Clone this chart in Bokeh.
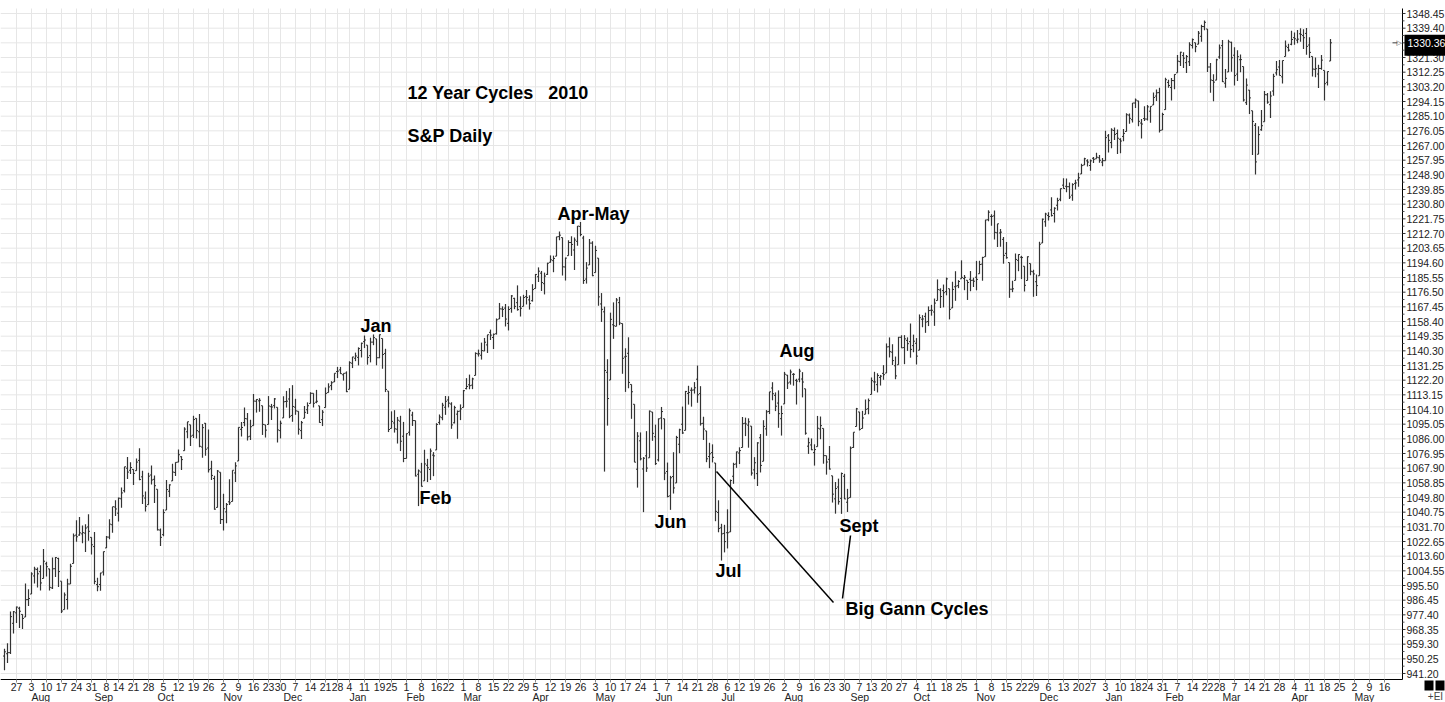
import datetime as dt
import pandas as pd
from bokeh.plotting import figure
from bokeh.models import ColumnDataSource, Range1d, Label
from bokeh.core.properties import value
from bokeh.embed import file_html
from bokeh.resources import INLINE

# ---------------- S&P 500 daily OHLC: (day, open, high, low, close)
jul_2009 = [(21, 951.97, 956.53, 943.22, 954.58), (22, 953.40, 959.83, 947.75, 954.07),
            (23, 954.07, 979.42, 953.27, 976.29), (24, 972.16, 979.79, 965.95, 979.26),
            (27, 978.63, 982.49, 972.29, 982.18), (28, 981.48, 982.35, 969.35, 979.62),
            (29, 977.66, 977.76, 968.65, 975.15), (30, 976.01, 996.68, 976.01, 986.75),
            (31, 986.80, 993.18, 982.85, 987.48)]
aug_2009 = [(3, 990.22, 1003.61, 990.22, 1002.63), (4, 1001.41, 1007.12, 996.68, 1005.65),
            (5, 1005.41, 1006.64, 994.31, 1002.72), (6, 1004.06, 1008.00, 992.49, 997.08),
            (7, 999.83, 1018.00, 999.83, 1010.48), (10, 1008.89, 1010.12, 1000.99, 1007.10),
            (11, 1005.77, 1005.77, 992.40, 994.35), (12, 994.00, 1012.78, 993.36, 1005.81),
            (13, 1005.86, 1013.14, 1000.82, 1012.73), (14, 1012.23, 1012.60, 994.60, 1004.09),
            (17, 998.18, 998.18, 978.51, 979.73), (18, 980.62, 991.20, 980.62, 989.67),
            (19, 986.88, 999.61, 980.62, 996.46), (20, 996.41, 1008.92, 996.39, 1007.37),
            (21, 1009.06, 1027.59, 1009.06, 1026.13), (24, 1026.59, 1035.82, 1022.48, 1025.57),
            (25, 1026.63, 1037.75, 1026.21, 1028.00), (26, 1027.35, 1032.47, 1021.57, 1028.12),
            (27, 1027.81, 1033.33, 1016.20, 1030.98), (28, 1031.62, 1039.47, 1023.13, 1028.93),
            (31, 1025.21, 1025.21, 1014.62, 1020.62)]
sep_2009 = [(1, 1019.52, 1028.45, 996.28, 998.04), (2, 996.07, 1000.34, 991.97, 994.75),
            (3, 996.12, 1003.43, 992.25, 1003.24), (4, 1003.84, 1016.48, 1001.65, 1016.40),
            (8, 1018.67, 1026.07, 1018.67, 1025.39), (9, 1025.36, 1036.34, 1023.97, 1033.37),
            (10, 1032.99, 1044.14, 1028.04, 1044.14), (11, 1043.92, 1048.18, 1038.40, 1042.73),
            (14, 1040.15, 1049.74, 1035.00, 1049.34), (15, 1049.03, 1056.04, 1043.42, 1052.63),
            (16, 1053.99, 1068.76, 1052.87, 1068.76), (17, 1067.87, 1074.77, 1061.20, 1065.49),
            (18, 1066.60, 1071.52, 1064.27, 1068.30), (21, 1067.14, 1067.28, 1057.46, 1064.66),
            (22, 1066.35, 1073.81, 1066.35, 1071.66), (23, 1072.69, 1080.15, 1060.39, 1060.87),
            (24, 1062.56, 1066.29, 1045.85, 1050.78), (25, 1049.48, 1053.47, 1041.17, 1044.38),
            (28, 1045.38, 1065.13, 1045.38, 1062.98), (29, 1063.69, 1069.62, 1057.83, 1060.61),
            (30, 1061.02, 1063.40, 1046.47, 1057.08)]
oct_2009 = [(1, 1054.91, 1054.91, 1029.45, 1029.85), (2, 1029.71, 1030.60, 1019.95, 1025.21),
            (5, 1026.87, 1042.58, 1025.92, 1040.46), (6, 1042.02, 1060.55, 1042.02, 1054.72),
            (7, 1053.65, 1058.02, 1050.10, 1057.58), (8, 1060.03, 1070.67, 1060.03, 1065.48),
            (9, 1065.28, 1071.51, 1063.00, 1071.49), (12, 1071.63, 1079.46, 1071.63, 1076.19),
            (13, 1074.96, 1075.30, 1066.71, 1073.19), (14, 1078.68, 1093.17, 1078.68, 1092.02),
            (15, 1090.36, 1096.56, 1086.41, 1096.56), (16, 1094.67, 1094.67, 1081.53, 1087.68),
            (19, 1088.22, 1100.17, 1086.48, 1097.91), (20, 1098.64, 1098.64, 1086.16, 1091.06),
            (21, 1090.36, 1101.36, 1080.77, 1081.40), (22, 1080.96, 1095.21, 1074.31, 1092.91),
            (23, 1095.62, 1095.83, 1075.49, 1079.60), (26, 1080.36, 1091.75, 1065.23, 1066.95),
            (27, 1067.54, 1072.48, 1060.62, 1063.41), (28, 1061.51, 1063.26, 1042.19, 1042.63),
            (29, 1043.69, 1066.83, 1043.69, 1066.11), (30, 1065.41, 1065.41, 1033.38, 1036.19)]
nov_2009 = [(2, 1036.18, 1052.18, 1029.38, 1042.88), (3, 1040.92, 1046.36, 1033.94, 1045.41),
            (4, 1047.14, 1061.00, 1045.15, 1046.50), (5, 1047.30, 1066.65, 1047.30, 1066.63),
            (6, 1064.95, 1071.48, 1059.32, 1069.30), (9, 1072.31, 1093.19, 1072.31, 1093.08),
            (10, 1091.86, 1096.42, 1087.40, 1093.01), (11, 1096.04, 1105.37, 1093.81, 1098.51),
            (12, 1098.31, 1101.97, 1084.90, 1087.24), (13, 1087.59, 1097.79, 1085.33, 1093.48),
            (16, 1094.13, 1113.69, 1094.13, 1109.30), (17, 1109.22, 1110.52, 1102.19, 1110.32),
            (18, 1109.44, 1111.10, 1102.70, 1109.80), (19, 1106.44, 1106.44, 1088.40, 1094.90),
            (20, 1094.66, 1094.66, 1086.81, 1091.38), (23, 1094.86, 1112.38, 1094.86, 1106.24),
            (24, 1105.83, 1107.56, 1097.63, 1105.65), (25, 1106.49, 1111.18, 1104.75, 1110.63),
            (27, 1105.47, 1105.47, 1083.74, 1091.49), (30, 1091.07, 1097.24, 1086.25, 1095.63)]
dec_2009 = [(1, 1098.89, 1112.28, 1098.89, 1108.86), (2, 1109.03, 1115.58, 1105.29, 1109.24),
            (3, 1110.59, 1117.28, 1098.74, 1099.92), (4, 1100.43, 1119.13, 1096.52, 1105.98),
            (7, 1105.52, 1110.72, 1100.83, 1103.25), (8, 1103.04, 1103.04, 1088.61, 1091.94),
            (9, 1091.07, 1097.04, 1085.89, 1095.95), (10, 1098.69, 1106.25, 1098.69, 1102.35),
            (11, 1103.96, 1108.50, 1101.34, 1106.41), (14, 1107.84, 1114.76, 1107.84, 1114.11),
            (15, 1114.11, 1114.11, 1105.35, 1107.93), (16, 1108.61, 1116.21, 1107.96, 1109.18),
            (17, 1106.36, 1106.36, 1095.88, 1096.08), (18, 1097.86, 1103.74, 1093.88, 1102.47),
            (21, 1105.31, 1117.68, 1105.31, 1114.05), (22, 1114.51, 1120.27, 1114.51, 1118.02),
            (23, 1118.84, 1121.58, 1116.00, 1120.59), (24, 1121.08, 1126.48, 1121.08, 1126.48),
            (28, 1127.53, 1130.38, 1123.51, 1127.78), (29, 1128.55, 1130.38, 1126.08, 1126.20),
            (30, 1125.53, 1126.42, 1121.94, 1126.42), (31, 1126.60, 1127.64, 1114.81, 1115.10)]
jan_2010 = [(4, 1116.56, 1133.87, 1116.56, 1132.99), (5, 1132.66, 1136.63, 1129.66, 1136.52),
            (6, 1135.71, 1139.19, 1133.95, 1137.14), (7, 1136.27, 1142.46, 1131.32, 1141.69),
            (8, 1140.52, 1145.39, 1136.22, 1144.98), (11, 1145.96, 1149.74, 1142.02, 1146.98),
            (12, 1143.81, 1143.81, 1131.77, 1136.22), (13, 1137.31, 1148.40, 1133.18, 1145.68),
            (14, 1145.68, 1150.41, 1143.80, 1148.46), (15, 1147.72, 1147.77, 1131.39, 1136.03),
            (19, 1136.03, 1150.45, 1135.77, 1150.23), (20, 1147.95, 1147.95, 1129.25, 1138.04),
            (21, 1138.68, 1141.58, 1114.84, 1116.48), (22, 1115.49, 1115.49, 1090.18, 1091.76),
            (25, 1092.40, 1102.97, 1092.40, 1096.78), (26, 1095.80, 1103.69, 1089.86, 1092.17),
            (27, 1091.94, 1099.51, 1083.11, 1097.50), (28, 1096.93, 1100.22, 1078.46, 1084.53),
            (29, 1087.61, 1096.45, 1071.59, 1073.87)]
feb_2010 = [(1, 1073.89, 1089.38, 1073.89, 1089.19), (2, 1090.05, 1104.73, 1087.96, 1103.32),
            (3, 1100.67, 1102.72, 1093.97, 1097.28), (4, 1097.25, 1097.25, 1062.78, 1063.11),
            (5, 1064.12, 1067.13, 1044.50, 1066.19), (8, 1065.51, 1071.20, 1056.51, 1056.74),
            (9, 1060.06, 1079.28, 1060.06, 1070.52), (10, 1069.68, 1073.67, 1059.34, 1068.13),
            (11, 1067.10, 1080.04, 1060.59, 1078.47), (12, 1075.95, 1077.81, 1062.97, 1075.51),
            (16, 1079.13, 1095.67, 1079.13, 1094.87), (17, 1096.14, 1101.03, 1094.72, 1099.51),
            (18, 1099.03, 1108.24, 1097.48, 1106.75), (19, 1105.49, 1112.42, 1100.80, 1109.17),
            (22, 1110.00, 1112.29, 1105.38, 1108.01), (23, 1107.49, 1108.58, 1092.18, 1094.60),
            (24, 1095.89, 1106.42, 1095.50, 1105.24), (25, 1101.24, 1103.50, 1086.02, 1102.94),
            (26, 1103.10, 1107.24, 1097.56, 1104.49)]
mar_2010 = [(1, 1105.36, 1116.11, 1105.36, 1115.71), (2, 1117.01, 1123.46, 1116.51, 1118.31),
            (3, 1119.36, 1125.64, 1116.58, 1118.79), (4, 1119.12, 1123.73, 1116.66, 1122.97),
            (5, 1125.12, 1139.38, 1125.12, 1138.70), (8, 1138.40, 1141.05, 1136.77, 1138.50),
            (9, 1137.56, 1145.37, 1134.90, 1140.45), (10, 1140.22, 1148.26, 1140.09, 1145.61),
            (11, 1143.96, 1150.24, 1138.99, 1150.24), (12, 1151.71, 1153.41, 1146.97, 1149.99),
            (15, 1148.53, 1150.98, 1141.45, 1150.51), (16, 1150.83, 1160.28, 1150.35, 1159.46),
            (17, 1159.94, 1169.84, 1159.94, 1166.21), (18, 1166.13, 1167.77, 1161.16, 1165.83),
            (19, 1166.68, 1169.20, 1155.33, 1159.90), (22, 1157.25, 1167.82, 1152.88, 1165.81),
            (23, 1166.47, 1174.72, 1163.83, 1174.17), (24, 1172.70, 1173.04, 1166.01, 1167.72),
            (25, 1170.03, 1180.69, 1165.09, 1165.73), (26, 1167.58, 1173.93, 1161.48, 1166.59),
            (29, 1167.71, 1174.85, 1167.71, 1173.22), (30, 1173.75, 1177.83, 1168.92, 1173.27),
            (31, 1171.75, 1174.56, 1165.77, 1169.43)]
apr_2010 = [(1, 1171.23, 1181.43, 1170.69, 1178.10), (5, 1178.71, 1187.73, 1178.71, 1187.44),
            (6, 1186.01, 1191.80, 1182.77, 1189.44), (7, 1188.23, 1189.60, 1177.25, 1182.45),
            (8, 1181.75, 1188.55, 1175.12, 1186.44), (9, 1187.47, 1194.66, 1187.15, 1194.37),
            (12, 1194.94, 1199.20, 1194.71, 1196.48), (13, 1195.94, 1199.04, 1188.82, 1197.30),
            (14, 1198.69, 1210.65, 1198.69, 1210.65), (15, 1210.77, 1213.92, 1208.50, 1211.67),
            (16, 1210.17, 1210.17, 1186.77, 1192.13), (19, 1192.06, 1197.87, 1183.68, 1197.52),
            (20, 1199.04, 1208.58, 1199.04, 1207.17), (21, 1207.16, 1210.99, 1198.85, 1205.94),
            (22, 1202.52, 1210.27, 1190.19, 1208.67), (23, 1207.87, 1217.28, 1205.10, 1217.28),
            (26, 1217.07, 1219.80, 1211.07, 1212.05), (27, 1209.92, 1211.38, 1181.62, 1183.71),
            (28, 1184.59, 1195.05, 1181.81, 1191.36), (29, 1193.30, 1209.36, 1193.30, 1206.78),
            (30, 1206.77, 1207.99, 1186.32, 1186.69)]
may_2010 = [(3, 1188.58, 1205.13, 1188.58, 1202.26), (4, 1197.50, 1197.50, 1168.12, 1173.60),
            (5, 1169.24, 1175.95, 1158.15, 1165.90), (6, 1164.38, 1167.58, 1065.79, 1128.15),
            (7, 1127.04, 1135.13, 1094.15, 1110.88), (10, 1122.27, 1163.85, 1122.27, 1159.73),
            (11, 1156.39, 1170.21, 1147.70, 1155.79), (12, 1155.43, 1172.87, 1155.43, 1171.67),
            (13, 1170.04, 1173.57, 1156.14, 1157.44), (14, 1157.19, 1157.19, 1126.14, 1135.68),
            (17, 1136.52, 1141.88, 1114.96, 1136.94), (18, 1138.78, 1148.66, 1117.20, 1120.80),
            (19, 1119.57, 1119.57, 1098.35, 1115.05), (20, 1107.34, 1107.34, 1071.58, 1071.59),
            (21, 1067.26, 1090.16, 1055.90, 1087.69), (24, 1084.78, 1089.95, 1072.70, 1073.65),
            (25, 1067.42, 1074.75, 1040.78, 1074.03), (26, 1075.51, 1090.75, 1065.59, 1067.95),
            (27, 1074.27, 1103.52, 1074.27, 1103.06), (28, 1102.59, 1102.59, 1084.78, 1089.41)]
jun_2010 = [(1, 1087.30, 1094.77, 1069.89, 1070.71), (2, 1073.01, 1098.56, 1072.03, 1098.38),
            (3, 1098.82, 1105.67, 1091.81, 1102.83), (4, 1098.43, 1098.43, 1060.50, 1064.88),
            (7, 1065.84, 1071.36, 1049.86, 1050.47), (8, 1050.81, 1063.15, 1042.17, 1062.00),
            (9, 1062.75, 1077.74, 1052.25, 1055.69), (10, 1058.77, 1087.85, 1058.77, 1086.84),
            (11, 1082.65, 1092.25, 1077.12, 1091.60), (14, 1095.00, 1105.91, 1089.03, 1089.63),
            (15, 1091.21, 1115.59, 1091.21, 1115.23), (16, 1114.02, 1118.74, 1107.13, 1114.61),
            (17, 1115.98, 1117.72, 1105.87, 1116.04), (18, 1116.16, 1121.01, 1113.93, 1117.51),
            (21, 1122.79, 1131.23, 1108.24, 1113.20), (22, 1113.90, 1118.50, 1094.18, 1095.31),
            (23, 1095.57, 1099.64, 1085.31, 1092.04), (24, 1090.93, 1090.93, 1071.60, 1073.69),
            (25, 1075.10, 1083.56, 1067.89, 1076.76), (28, 1077.50, 1082.60, 1071.45, 1074.57),
            (29, 1071.10, 1071.10, 1035.18, 1041.24), (30, 1040.56, 1048.08, 1028.33, 1030.71)]
jul_2010 = [(1, 1031.10, 1033.58, 1010.91, 1027.37), (2, 1027.65, 1032.95, 1015.93, 1022.58),
            (6, 1028.09, 1042.50, 1018.35, 1028.06), (7, 1028.54, 1060.89, 1028.54, 1060.27),
            (8, 1062.92, 1071.25, 1058.24, 1070.25), (9, 1070.50, 1078.16, 1068.10, 1077.96),
            (12, 1077.23, 1080.78, 1070.45, 1078.75), (13, 1080.65, 1099.46, 1080.65, 1095.34),
            (14, 1095.61, 1099.08, 1087.68, 1095.17), (15, 1094.46, 1098.66, 1080.53, 1096.48),
            (16, 1093.85, 1093.85, 1063.32, 1064.88), (19, 1066.85, 1074.70, 1061.11, 1071.25),
            (20, 1064.53, 1083.94, 1056.88, 1083.48), (21, 1086.67, 1088.96, 1065.25, 1069.59),
            (22, 1072.14, 1097.50, 1072.14, 1093.67), (23, 1092.17, 1103.73, 1087.88, 1102.66),
            (26, 1102.89, 1115.01, 1101.30, 1115.01), (27, 1117.36, 1120.95, 1109.78, 1113.84),
            (28, 1112.84, 1114.66, 1103.11, 1106.13), (29, 1108.07, 1115.90, 1092.82, 1101.53),
            (30, 1098.44, 1106.44, 1088.01, 1101.60)]
aug_2010 = [(2, 1107.53, 1127.30, 1107.53, 1125.86), (3, 1125.34, 1125.44, 1116.76, 1120.46),
            (4, 1121.06, 1128.75, 1119.46, 1127.24), (5, 1125.78, 1126.56, 1118.81, 1125.81),
            (6, 1122.07, 1123.06, 1107.17, 1121.64), (9, 1122.80, 1129.24, 1120.91, 1127.79),
            (10, 1122.92, 1127.16, 1111.58, 1121.06), (11, 1116.89, 1116.89, 1088.55, 1089.47),
            (12, 1081.48, 1086.72, 1076.69, 1083.61), (13, 1082.22, 1086.25, 1079.00, 1079.25),
            (16, 1077.49, 1082.62, 1069.49, 1079.38), (17, 1081.16, 1100.14, 1081.16, 1092.54),
            (18, 1092.08, 1099.77, 1085.76, 1094.16), (19, 1092.44, 1092.44, 1070.66, 1075.63),
            (20, 1075.63, 1075.63, 1063.91, 1071.69), (23, 1073.36, 1081.58, 1067.08, 1067.36),
            (24, 1063.20, 1063.20, 1046.68, 1051.87), (25, 1048.98, 1059.38, 1039.83, 1055.33),
            (26, 1056.28, 1061.45, 1045.40, 1047.22), (27, 1049.27, 1065.21, 1039.70, 1064.59),
            (30, 1062.90, 1064.40, 1048.79, 1048.92), (31, 1046.88, 1055.14, 1040.88, 1049.33)]
sep_2010 = [(1, 1049.72, 1081.30, 1049.72, 1080.29), (2, 1080.66, 1090.10, 1080.39, 1090.10),
            (3, 1093.61, 1105.10, 1093.61, 1104.51), (7, 1102.60, 1102.60, 1091.15, 1091.84),
            (8, 1092.36, 1103.26, 1092.36, 1098.87), (9, 1101.15, 1110.27, 1101.15, 1104.18),
            (10, 1104.57, 1110.88, 1101.15, 1109.55), (13, 1113.38, 1123.87, 1113.38, 1121.90),
            (14, 1121.16, 1127.36, 1115.58, 1121.10), (15, 1119.43, 1126.46, 1114.63, 1125.07),
            (16, 1123.89, 1125.44, 1118.88, 1124.66), (17, 1126.39, 1131.47, 1122.43, 1125.59),
            (20, 1126.57, 1144.86, 1126.57, 1142.71), (21, 1142.82, 1148.59, 1136.22, 1139.78),
            (22, 1139.49, 1144.38, 1131.58, 1134.28), (23, 1131.10, 1136.77, 1122.79, 1124.83),
            (24, 1131.69, 1148.90, 1131.69, 1148.67), (27, 1148.64, 1149.92, 1142.00, 1142.16),
            (28, 1142.31, 1150.00, 1132.09, 1147.70), (29, 1146.75, 1148.63, 1140.26, 1144.73),
            (30, 1145.97, 1157.16, 1136.08, 1141.20)]
oct_2010 = [(1, 1143.49, 1150.30, 1139.42, 1146.24), (4, 1144.96, 1148.16, 1131.87, 1137.03),
            (5, 1140.68, 1162.76, 1140.68, 1160.75), (6, 1159.81, 1162.33, 1154.85, 1159.97),
            (7, 1161.57, 1163.87, 1151.41, 1158.06), (8, 1158.36, 1167.73, 1155.58, 1165.15),
            (11, 1165.32, 1168.68, 1162.02, 1165.32), (12, 1164.28, 1172.58, 1155.71, 1169.77),
            (13, 1171.32, 1184.38, 1171.32, 1178.10), (14, 1177.82, 1178.89, 1166.71, 1173.81),
            (15, 1177.47, 1181.20, 1167.12, 1176.19), (18, 1176.83, 1185.53, 1174.55, 1184.71),
            (19, 1178.64, 1178.64, 1159.71, 1165.90), (20, 1166.74, 1182.94, 1166.74, 1178.17),
            (21, 1179.82, 1189.43, 1171.17, 1180.26), (22, 1180.52, 1183.93, 1178.99, 1183.08),
            (25, 1184.74, 1196.14, 1184.74, 1185.62), (26, 1184.88, 1187.11, 1177.72, 1185.64),
            (27, 1183.84, 1183.84, 1171.70, 1182.45), (28, 1184.47, 1189.53, 1177.10, 1183.78),
            (29, 1183.87, 1185.46, 1179.70, 1183.26)]
nov_2010 = [(1, 1185.71, 1195.81, 1177.65, 1184.38), (2, 1187.86, 1195.88, 1187.86, 1193.57),
            (3, 1193.79, 1198.30, 1183.56, 1197.96), (4, 1198.34, 1221.25, 1198.34, 1221.06),
            (5, 1221.20, 1227.08, 1220.29, 1225.85), (8, 1223.24, 1224.57, 1217.55, 1223.25),
            (9, 1223.59, 1226.84, 1208.94, 1213.40), (10, 1213.14, 1218.75, 1204.33, 1218.71),
            (11, 1213.04, 1215.45, 1204.49, 1213.54), (12, 1209.07, 1210.50, 1194.08, 1199.21),
            (15, 1200.44, 1207.43, 1197.15, 1197.75), (16, 1194.79, 1194.79, 1173.00, 1178.34),
            (17, 1178.33, 1183.56, 1176.50, 1178.59), (18, 1183.75, 1200.29, 1183.75, 1196.69),
            (19, 1196.12, 1199.97, 1189.44, 1199.73), (22, 1198.07, 1198.94, 1184.58, 1197.84),
            (23, 1192.51, 1192.51, 1176.91, 1180.73), (24, 1183.70, 1198.62, 1183.70, 1198.35),
            (26, 1194.16, 1194.16, 1186.93, 1189.40), (29, 1189.08, 1190.34, 1173.64, 1187.76),
            (30, 1182.96, 1187.40, 1174.14, 1180.55)]
dec_2010 = [(1, 1186.60, 1207.61, 1186.60, 1206.07), (2, 1206.81, 1221.89, 1206.81, 1221.53),
            (3, 1219.93, 1225.57, 1216.82, 1224.71), (6, 1223.87, 1225.80, 1220.67, 1223.12),
            (7, 1227.25, 1235.05, 1223.25, 1223.75), (8, 1225.02, 1228.93, 1219.50, 1228.28),
            (9, 1230.14, 1234.71, 1226.85, 1233.00), (10, 1233.85, 1240.40, 1232.58, 1240.40),
            (13, 1242.52, 1246.73, 1240.34, 1240.46), (14, 1241.84, 1246.59, 1238.17, 1241.59),
            (15, 1241.58, 1244.25, 1234.01, 1235.23), (16, 1236.34, 1243.75, 1232.85, 1242.87),
            (17, 1243.63, 1245.81, 1239.87, 1243.91), (20, 1245.76, 1250.20, 1241.51, 1247.08),
            (21, 1249.43, 1255.82, 1249.43, 1254.60), (22, 1254.94, 1259.39, 1254.94, 1258.84),
            (23, 1257.53, 1258.59, 1254.05, 1256.77), (27, 1254.66, 1258.43, 1251.48, 1257.54),
            (28, 1259.10, 1259.90, 1256.22, 1258.51), (29, 1258.78, 1262.60, 1258.78, 1259.78),
            (30, 1259.44, 1261.09, 1256.32, 1257.88), (31, 1256.76, 1259.34, 1254.19, 1257.64)]
jan_2011 = [(3, 1257.62, 1276.17, 1257.62, 1271.87), (4, 1272.95, 1274.12, 1262.66, 1270.20),
            (5, 1268.78, 1277.63, 1265.36, 1276.56), (6, 1276.29, 1278.17, 1270.43, 1273.85),
            (7, 1274.41, 1276.83, 1261.70, 1271.50), (10, 1270.84, 1271.52, 1262.18, 1269.75),
            (11, 1272.58, 1277.25, 1269.62, 1274.48), (12, 1275.65, 1286.87, 1275.65, 1285.96),
            (13, 1285.78, 1286.70, 1280.47, 1283.76), (14, 1282.90, 1293.24, 1281.24, 1293.24),
            (18, 1293.22, 1296.06, 1290.16, 1295.02), (19, 1294.52, 1294.60, 1278.92, 1281.92),
            (20, 1280.85, 1283.35, 1271.26, 1280.26), (21, 1283.63, 1291.21, 1282.07, 1283.35),
            (24, 1283.29, 1291.93, 1282.47, 1290.84), (25, 1288.17, 1291.26, 1281.07, 1291.18),
            (26, 1291.97, 1299.74, 1291.97, 1296.63), (27, 1297.51, 1301.63, 1294.41, 1299.54),
            (28, 1299.63, 1302.67, 1275.10, 1276.34), (31, 1276.50, 1287.17, 1276.50, 1286.12)]
feb_2011 = [(1, 1289.14, 1308.86, 1289.14, 1307.59), (2, 1305.91, 1307.61, 1302.62, 1304.03),
            (3, 1302.77, 1308.60, 1294.83, 1307.10), (4, 1307.01, 1311.00, 1301.67, 1310.87),
            (7, 1311.85, 1322.85, 1311.85, 1319.05), (8, 1318.76, 1324.87, 1316.03, 1324.57),
            (9, 1322.48, 1324.54, 1314.89, 1320.88), (10, 1318.13, 1322.78, 1311.74, 1321.87),
            (11, 1318.66, 1330.79, 1316.08, 1329.15), (14, 1328.73, 1332.96, 1326.90, 1332.32),
            (15, 1330.43, 1330.43, 1324.61, 1328.01), (16, 1329.51, 1337.61, 1329.51, 1336.32),
            (17, 1334.37, 1341.50, 1331.00, 1340.43), (18, 1340.38, 1344.07, 1338.12, 1343.01),
            (22, 1338.91, 1338.91, 1312.33, 1315.44), (23, 1315.44, 1317.91, 1299.55, 1307.40),
            (24, 1307.09, 1310.91, 1294.26, 1306.10), (25, 1307.34, 1320.61, 1307.34, 1319.88),
            (28, 1321.61, 1329.38, 1320.55, 1327.22)]
mar_2011 = [(1, 1328.64, 1332.09, 1306.14, 1306.33), (2, 1305.47, 1314.19, 1302.58, 1308.44),
            (3, 1312.37, 1332.28, 1312.37, 1330.97), (4, 1330.73, 1331.08, 1312.59, 1321.15),
            (7, 1322.72, 1327.68, 1303.99, 1310.13), (8, 1311.05, 1325.74, 1306.86, 1321.82),
            (9, 1319.92, 1323.21, 1312.27, 1320.02), (10, 1315.72, 1315.72, 1294.21, 1295.11),
            (11, 1293.43, 1308.35, 1291.99, 1304.28), (14, 1301.19, 1301.19, 1286.37, 1296.39),
            (15, 1288.46, 1288.46, 1261.12, 1281.87), (16, 1279.46, 1280.91, 1249.05, 1256.88),
            (17, 1261.61, 1278.88, 1261.61, 1273.72), (18, 1276.71, 1288.88, 1276.18, 1279.21),
            (21, 1281.65, 1300.58, 1281.65, 1298.38), (22, 1298.29, 1299.35, 1292.70, 1293.77),
            (23, 1292.19, 1300.51, 1284.05, 1297.54), (24, 1300.61, 1311.34, 1297.74, 1309.66),
            (25, 1311.80, 1319.18, 1310.15, 1313.80), (28, 1315.45, 1319.74, 1310.19, 1310.19),
            (29, 1309.37, 1319.45, 1305.26, 1319.44), (30, 1321.89, 1331.74, 1321.89, 1328.26),
            (31, 1327.44, 1329.77, 1325.03, 1325.83)]
apr_2011 = [(1, 1329.48, 1337.85, 1328.89, 1332.41), (4, 1333.56, 1336.74, 1329.10, 1332.87),
            (5, 1332.03, 1338.21, 1330.03, 1332.63), (6, 1335.94, 1339.38, 1331.09, 1335.54),
            (7, 1334.82, 1338.80, 1326.56, 1333.51), (8, 1336.16, 1339.46, 1322.94, 1328.17),
            (11, 1329.01, 1333.77, 1321.06, 1324.46), (12, 1321.96, 1321.96, 1309.51, 1314.16),
            (13, 1314.03, 1321.35, 1309.19, 1314.41), (14, 1311.13, 1316.79, 1302.42, 1314.52),
            (15, 1314.54, 1322.88, 1313.68, 1319.68), (18, 1313.35, 1313.35, 1294.70, 1305.14),
            (19, 1305.99, 1312.70, 1303.97, 1312.62), (20, 1319.12, 1332.66, 1319.12, 1330.36)]

month_tables = [((2009, 7), jul_2009), ((2009, 8), aug_2009), ((2009, 9), sep_2009),
                ((2009, 10), oct_2009), ((2009, 11), nov_2009), ((2009, 12), dec_2009),
                ((2010, 1), jan_2010), ((2010, 2), feb_2010), ((2010, 3), mar_2010),
                ((2010, 4), apr_2010), ((2010, 5), may_2010), ((2010, 6), jun_2010),
                ((2010, 7), jul_2010), ((2010, 8), aug_2010), ((2010, 9), sep_2010),
                ((2010, 10), oct_2010), ((2010, 11), nov_2010), ((2010, 12), dec_2010),
                ((2011, 1), jan_2011), ((2011, 2), feb_2011), ((2011, 3), mar_2011),
                ((2011, 4), apr_2011)]

# exchange holidays inside the data period (the future part of the axis has none)
holidays = ["2009-09-07", "2009-11-26", "2009-12-25", "2010-01-01", "2010-01-18",
            "2010-02-15", "2010-04-02", "2010-05-31", "2010-07-05", "2010-09-06",
            "2010-11-25", "2010-12-24", "2011-01-17", "2011-02-21"]
last_price = 1330.36
y_tick_start, y_tick_step, y_tick_count = 941.20, 9.05, 46

# ---------------- trading-day calendar (x axis = trading-day index)
hol = set(pd.to_datetime(holidays).date)
cal = [d.date() for d in pd.bdate_range("2009-07-21", "2011-06-17") if d.date() not in hol]
pos = {d: i for i, d in enumerate(cal)}

xs, os_, hs, ls, cs = [], [], [], [], []
for (yy, mm), rows in month_tables:
    for (day, o, h, l, c) in rows:
        d = dt.date(yy, mm, day)
        xs.append(pos[d]); os_.append(o); hs.append(h); ls.append(l); cs.append(c)

src = ColumnDataSource(dict(x=xs, xl=[v - 0.5 for v in xs], xr=[v + 0.5 for v in xs],
                            o=os_, h=hs, l=ls, c=cs))

# ---------------- geometry: canvas pixels <-> data (3 px per trading day)
CW, CH = 1445, 702
PPD = 3.0                     # px per trading day
X_OFF = 4.0                   # px of trading day 0
PPP = 1.6206                  # px per index point
Y_REF_PX, Y_REF = 673.0, 941.20


def ix(px):
    return (px - X_OFF) / PPD


def pv(py):
    return Y_REF + (Y_REF_PX - py) / PPP


X0, X1 = ix(0), ix(CW)
Y0, Y1 = pv(CH), pv(0)
X_AXIS = ix(1402)             # price axis line
Y_AXIS = pv(679)              # time axis line
Y_TOP = pv(8)                 # top of grid

p = figure(width=CW, height=CH, x_range=Range1d(X0, X1), y_range=Range1d(Y0, Y1),
           x_axis_type=None, y_axis_type=None, output_backend="svg",
           toolbar_location=None, min_border=0)
p.outline_line_color = None
p.background_fill_color = "white"
p.border_fill_color = "white"
p.grid.visible = False

grid_col = "#e6e6e6"
lab_col = "#222222"
font = "Liberation Sans"

# time-axis ticks: week day-numbers and month names
week_ticks, week_lbl = [], []
month_ticks, month_lbl = [], []
for i, d in enumerate(cal):
    if i == 0 or i > X_AXIS - 3:
        continue
    prev = cal[i - 1]
    if d.weekday() <= prev.weekday():
        week_ticks.append(i)
        week_lbl.append(str(d.day))
    if d.month != prev.month:
        month_ticks.append(i)
        month_lbl.append(d.strftime("%b"))

yt = [round(y_tick_start + y_tick_step * k, 2) for k in range(y_tick_count)]
ym = [round(y_tick_start + y_tick_step * (k + 0.5), 3) for k in range(y_tick_count - 1)]

# grid
p.segment(x0=week_ticks, x1=week_ticks, y0=[Y_AXIS] * len(week_ticks),
          y1=[Y_TOP] * len(week_ticks), line_color=grid_col, line_width=1)
p.segment(x0=[X0] * len(yt), x1=[X_AXIS] * len(yt), y0=yt, y1=yt,
          line_color=grid_col, line_width=1)

# OHLC bars
bar_col = "#333333"
p.segment(x0="x", y0="l", x1="x", y1="h", source=src, line_color=bar_col, line_width=1.2)
p.segment(x0="xl", y0="o", x1="x", y1="o", source=src, line_color=bar_col, line_width=1)
p.segment(x0="x", y0="c", x1="xr", y1="c", source=src, line_color=bar_col, line_width=1)

# annotations
notes = [("12 Year Cycles\u00a0\u00a0 2010", 407, 92), ("S&P Daily", 407, 135),
         ("Jan", 360, 325), ("Feb", 419, 497), ("Apr-May", 557, 213), ("Jun", 654, 521),
         ("Jul", 715, 570), ("Aug", 779, 350), ("Sept", 839, 525),
         ("Big Gann Cycles", 845, 608)]
for t, px, py in notes:
    p.add_layout(Label(x=ix(px), y=pv(py), text=t, text_font=font, text_font_size="18px",
                       text_font_style="bold", text_color="black", text_align="left",
                       text_baseline="middle"))

p.line(x=[ix(716), ix(833)], y=[pv(471), pv(602)], line_color="black", line_width=1.5)
p.line(x=[ix(850), ix(842)], y=[pv(535), pv(598)], line_color="black", line_width=1.5)

# axes lines
p.segment(x0=[X0], x1=[X_AXIS], y0=[Y_AXIS], y1=[Y_AXIS], line_color="black", line_width=1)
p.segment(x0=[X_AXIS], x1=[X_AXIS], y0=[Y_AXIS], y1=[Y_TOP], line_color="black", line_width=1)

# price-axis ticks and labels
p.segment(x0=[X_AXIS] * len(yt), x1=[X_AXIS + 3 / PPD] * len(yt), y0=yt, y1=yt,
          line_color="#333333", line_width=1)
p.segment(x0=[X_AXIS] * len(ym), x1=[X_AXIS + 2 / PPD] * len(ym), y0=ym, y1=ym,
          line_color="#555555", line_width=1)
p.text(x=[X_AXIS + 4 / PPD] * len(yt), y=yt, text=[f"{v:.2f}" for v in yt],
       text_font=value(font), text_font_size=value("10.5px"), text_color=lab_col,
       text_align="left", text_baseline="middle")

# time-axis ticks and labels
p.segment(x0=week_ticks, x1=week_ticks, y0=[Y_AXIS] * len(week_ticks),
          y1=[pv(682)] * len(week_ticks), line_color="#888888", line_width=1)
p.text(x=week_ticks, y=[pv(686)] * len(week_ticks), text=week_lbl,
       text_font=value(font), text_font_size=value("10.5px"), text_color=lab_col,
       text_align="center", text_baseline="middle")
p.text(x=month_ticks, y=[pv(696)] * len(month_ticks), text=month_lbl,
       text_font=value(font), text_font_size=value("10.5px"), text_color=lab_col,
       text_align="left", text_baseline="middle")

# last-price marker
p.quad(left=[ix(1404)], right=[X1], top=[last_price + 8 / PPP],
       bottom=[last_price - 13 / PPP], fill_color="black", line_color=None)
p.text(x=[ix(1407)], y=[last_price], text=[f"{last_price:.2f}"],
       text_font=value(font), text_font_size=value("10.5px"), text_color="white",
       text_align="left", text_baseline="middle")
p.segment(x0=[ix(1392)], x1=[ix(1397)], y0=[last_price], y1=[last_price],
          line_color="#444444", line_width=1)
p.text(x=[ix(1396)], y=[last_price], text=["\u25B7"], text_font=value("DejaVu Sans"),
       text_font_size=value("7px"), text_color="#444444", text_align="left",
       text_baseline="middle")

# corner marks at bottom right
p.quad(left=[ix(1424), ix(1435)], right=[ix(1433), ix(1444)],
       top=[pv(680)] * 2, bottom=[pv(690)] * 2, fill_color="black", line_color=None)
p.text(x=[ix(1435)], y=[pv(696)], text=["+EI"], text_font=value(font),
       text_font_size=value("10px"), text_color="#444444", text_align="center",
       text_baseline="middle")

open("out.html", "w").write(file_html(p, INLINE))
